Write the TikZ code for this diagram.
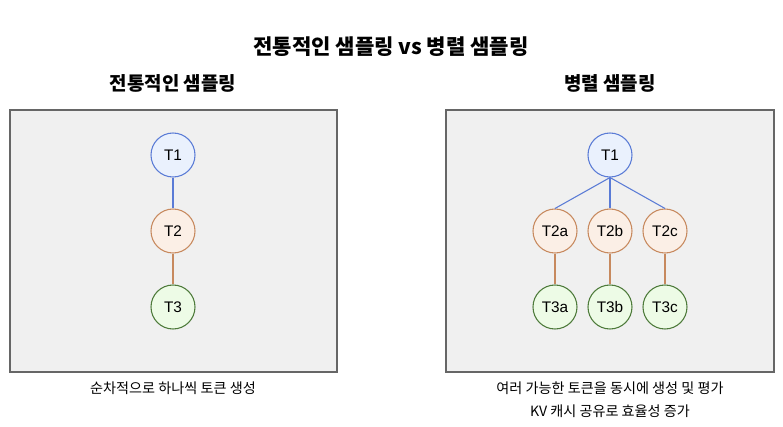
\documentclass[tikz,border=0pt]{standalone}
\usepackage{fontspec}
\setmainfont{Liberation Sans}
\newfontfamily\kr{Noto Sans CJK KR}
\usepackage{tikz}

\definecolor{panelfill}{HTML}{F0F0F0}
\definecolor{paneldraw}{HTML}{666666}
\definecolor{bluefill}{HTML}{EAF1FD}
\definecolor{bluedraw}{HTML}{5A7BD6}
\definecolor{orangefill}{HTML}{FBEFE6}
\definecolor{orangedraw}{HTML}{C7895E}
\definecolor{greenfill}{HTML}{EDFBE6}
\definecolor{greendraw}{HTML}{4D7A3A}

\begin{document}
\begin{tikzpicture}[x=0.75pt,y=-0.75pt,
  panel/.style={draw=paneldraw, fill=panelfill, line width=1pt},
  tok/.style={circle, minimum size=33pt, inner sep=0pt, line width=0.8pt,
    font=\fontsize{11.5}{13}\selectfont},
  tokA/.style={tok, draw=bluedraw, fill=bluefill},
  tokB/.style={tok, draw=orangedraw, fill=orangefill},
  tokC/.style={tok, draw=greendraw, fill=greenfill},
  linkA/.style={draw=bluedraw, line width=0.8pt},
  linkB/.style={draw=orangedraw, line width=0.8pt},
  caption/.style={font=\kr\fontsize{10.6}{12}\selectfont}]

  \useasboundingbox[fill=white] (0,0) rectangle (783,427);

  \node[font=\kr\bfseries\fontsize{15.8}{18}\selectfont] (title) at (391,47) {전통적인 샘플링 vs 병렬 샘플링};
  \node[font=\kr\bfseries\fontsize{14.2}{16}\selectfont] (lefthead) at (173,83) {전통적인 샘플링};
  \node[font=\kr\bfseries\fontsize{14.2}{16}\selectfont] (righthead) at (610,83) {병렬 샘플링};

  \draw[panel] (10,110) rectangle (337,372);
  \draw[panel] (446,110) rectangle (774,372);

  % traditional
  \node[tokA] (t1) at (173,155) {T1};
  \node[tokB] (t2) at (173,231) {T2};
  \node[tokC] (t3) at (173,307) {T3};
  \draw[linkA] (t1) -- (t2);
  \draw[linkB] (t2) -- (t3);

  % parallel
  \node[tokA] (p1) at (610,155) {T1};
  \node[tokB] (p2a) at (555,231) {T2a};
  \node[tokB] (p2b) at (610,231) {T2b};
  \node[tokB] (p2c) at (665,231) {T2c};
  \node[tokC] (p3a) at (555,307) {T3a};
  \node[tokC] (p3b) at (610,307) {T3b};
  \node[tokC] (p3c) at (665,307) {T3c};
  \draw[linkA] (p1.south) -- (p2a.north);
  \draw[linkA] (p1.south) -- (p2b.north);
  \draw[linkA] (p1.south) -- (p2c.north);
  \draw[linkB] (p2a) -- (p3a);
  \draw[linkB] (p2b) -- (p3b);
  \draw[linkB] (p2c) -- (p3c);

  \node[caption] (leftnote) at (173,388) {순차적으로 하나씩 토큰 생성};
  \node[caption] (rightnote1) at (610,388) {여러 가능한 토큰을 동시에 생성 및 평가};
  \node[caption] (rightnote2) at (610,411) {KV 캐시 공유로 효율성 증가};
\end{tikzpicture}
\end{document}
